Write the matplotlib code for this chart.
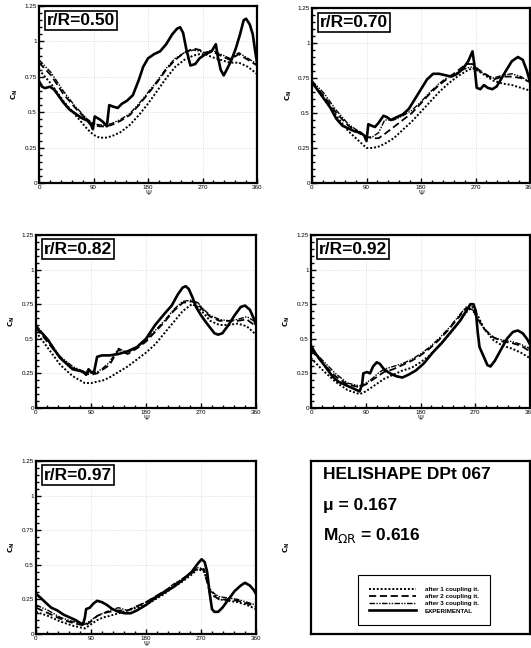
import matplotlib.pyplot as plt
from matplotlib.ticker import MultipleLocator, FuncFormatter

# common azimuth grid for the three coupling iterations
psi_model = [0, 20, 40, 60, 80, 90, 100, 110, 120, 135, 150, 165, 180, 195,
             210, 225, 240, 255, 265, 275, 285, 300, 315, 330, 345, 360]

# r/R = 0.50
it1_050 = [0.80, 0.70, 0.58, 0.48, 0.38, 0.34, 0.32, 0.32, 0.33, 0.36, 0.41, 0.48, 0.56,
           0.65, 0.74, 0.82, 0.87, 0.90, 0.91, 0.91, 0.89, 0.87, 0.85, 0.85, 0.82, 0.77]
it2_050 = [0.85, 0.76, 0.63, 0.53, 0.44, 0.41, 0.40, 0.40, 0.41, 0.44, 0.48, 0.55, 0.63,
           0.71, 0.80, 0.87, 0.92, 0.95, 0.94, 0.92, 0.93, 0.90, 0.87, 0.91, 0.87, 0.83]
it3_050 = [0.87, 0.78, 0.65, 0.54, 0.45, 0.42, 0.41, 0.41, 0.42, 0.45, 0.49, 0.56, 0.64,
           0.72, 0.81, 0.88, 0.92, 0.94, 0.93, 0.92, 0.94, 0.91, 0.88, 0.92, 0.88, 0.84]
psi_exp_050 = [0, 5, 10, 18, 25, 30, 40, 50, 60, 70, 80, 86, 89, 92, 100, 106, 112, 116,
               122, 130, 137, 145, 155, 165, 172, 180, 190, 200, 210, 220, 228, 233, 238,
               243, 250, 258, 265, 275, 285, 292, 295, 300, 305, 310, 318, 325, 332, 338,
               342, 348, 353, 357, 360]
exp_050 = [0.72, 0.68, 0.67, 0.68, 0.66, 0.63, 0.57, 0.52, 0.49, 0.46, 0.44, 0.41, 0.38,
           0.47, 0.45, 0.43, 0.40, 0.55, 0.54, 0.53, 0.56, 0.58, 0.62, 0.73, 0.82, 0.88,
           0.91, 0.93, 0.98, 1.05, 1.09, 1.10, 1.06, 0.95, 0.83, 0.84, 0.88, 0.91, 0.93,
           0.98, 0.90, 0.80, 0.76, 0.80, 0.87, 0.95, 1.05, 1.15, 1.16, 1.12, 1.05, 0.93, 0.85]

# r/R = 0.70
it1_070 = [0.72, 0.60, 0.48, 0.37, 0.29, 0.25, 0.25, 0.26, 0.28, 0.32, 0.38, 0.44, 0.51,
           0.58, 0.65, 0.71, 0.76, 0.80, 0.82, 0.80, 0.77, 0.73, 0.71, 0.70, 0.68, 0.66]
it2_070 = [0.72, 0.62, 0.50, 0.41, 0.35, 0.33, 0.32, 0.32, 0.35, 0.40, 0.45, 0.50, 0.57,
           0.64, 0.70, 0.75, 0.80, 0.85, 0.85, 0.81, 0.78, 0.74, 0.76, 0.76, 0.75, 0.72]
it3_070 = [0.73, 0.64, 0.52, 0.42, 0.36, 0.33, 0.33, 0.36, 0.45, 0.45, 0.48, 0.52, 0.58,
           0.65, 0.71, 0.76, 0.79, 0.82, 0.83, 0.80, 0.78, 0.75, 0.77, 0.78, 0.76, 0.72]
psi_exp_070 = [0, 10, 20, 30, 40, 50, 60, 70, 80, 86, 90, 93, 98, 104, 110, 118, 124, 130,
               140, 150, 160, 170, 180, 190, 200, 210, 220, 230, 240, 250, 258, 265, 268,
               272, 278, 284, 290, 298, 305, 312, 320, 330, 340, 348, 355, 360]
exp_070 = [0.72, 0.66, 0.60, 0.54, 0.46, 0.41, 0.39, 0.37, 0.36, 0.34, 0.30, 0.42, 0.41,
           0.40, 0.43, 0.48, 0.47, 0.45, 0.47, 0.49, 0.53, 0.60, 0.67, 0.74, 0.78, 0.78,
           0.77, 0.76, 0.78, 0.82, 0.87, 0.94, 0.85, 0.68, 0.67, 0.70, 0.68, 0.67, 0.69,
           0.74, 0.80, 0.87, 0.90, 0.88, 0.80, 0.72]

# r/R = 0.82
it1_082 = [0.55, 0.43, 0.31, 0.23, 0.18, 0.18, 0.19, 0.20, 0.22, 0.26, 0.30, 0.35, 0.40,
           0.46, 0.54, 0.62, 0.70, 0.75, 0.73, 0.68, 0.63, 0.60, 0.60, 0.61, 0.59, 0.53]
it2_082 = [0.58, 0.47, 0.36, 0.29, 0.25, 0.24, 0.25, 0.28, 0.31, 0.42, 0.39, 0.43, 0.48,
           0.55, 0.62, 0.70, 0.76, 0.77, 0.75, 0.70, 0.66, 0.63, 0.63, 0.63, 0.64, 0.59]
it3_082 = [0.60, 0.49, 0.37, 0.30, 0.26, 0.25, 0.26, 0.29, 0.33, 0.43, 0.40, 0.44, 0.49,
           0.56, 0.63, 0.71, 0.77, 0.78, 0.76, 0.71, 0.67, 0.64, 0.63, 0.64, 0.66, 0.62]
psi_exp_082 = [0, 10, 20, 30, 40, 50, 60, 70, 78, 82, 86, 90, 95, 100, 108, 120, 135, 150,
               165, 180, 195, 210, 222, 232, 240, 245, 250, 256, 262, 270, 278, 285, 292,
               298, 305, 315, 325, 335, 342, 350, 356, 360]
exp_082 = [0.58, 0.54, 0.49, 0.42, 0.36, 0.32, 0.28, 0.27, 0.26, 0.24, 0.28, 0.26, 0.26,
           0.37, 0.38, 0.38, 0.39, 0.41, 0.44, 0.50, 0.60, 0.68, 0.74, 0.82, 0.87, 0.88,
           0.86, 0.80, 0.73, 0.67, 0.62, 0.58, 0.54, 0.53, 0.54, 0.60, 0.67, 0.73, 0.74,
           0.71, 0.65, 0.60]

# r/R = 0.92
it1_092 = [0.36, 0.27, 0.19, 0.13, 0.10, 0.12, 0.15, 0.18, 0.21, 0.24, 0.27, 0.29, 0.33,
           0.38, 0.45, 0.52, 0.60, 0.69, 0.73, 0.66, 0.57, 0.49, 0.45, 0.43, 0.40, 0.36]
it2_092 = [0.42, 0.32, 0.23, 0.17, 0.15, 0.17, 0.20, 0.23, 0.26, 0.28, 0.31, 0.34, 0.38,
           0.43, 0.49, 0.56, 0.64, 0.72, 0.72, 0.64, 0.57, 0.51, 0.48, 0.47, 0.45, 0.41]
it3_092 = [0.43, 0.34, 0.25, 0.18, 0.16, 0.18, 0.21, 0.25, 0.28, 0.30, 0.32, 0.35, 0.39,
           0.44, 0.50, 0.57, 0.65, 0.73, 0.71, 0.63, 0.57, 0.51, 0.49, 0.48, 0.46, 0.43]
psi_exp_092 = [0, 8, 15, 25, 35, 45, 55, 65, 75, 80, 84, 86, 92, 97, 102, 108, 113, 120,
               130, 140, 150, 160, 172, 185, 200, 215, 230, 245, 255, 262, 267, 271, 274,
               277, 283, 290, 295, 302, 312, 322, 332, 340, 348, 355, 360]
exp_092 = [0.45, 0.39, 0.35, 0.29, 0.23, 0.19, 0.17, 0.15, 0.13, 0.12, 0.17, 0.25, 0.26,
           0.25, 0.30, 0.33, 0.32, 0.28, 0.25, 0.23, 0.22, 0.24, 0.27, 0.32, 0.40, 0.47,
           0.55, 0.63, 0.70, 0.75, 0.75, 0.70, 0.55, 0.44, 0.38, 0.31, 0.30, 0.34, 0.42,
           0.50, 0.55, 0.56, 0.54, 0.50, 0.46]

# r/R = 0.97
it1_097 = [0.16, 0.13, 0.09, 0.06, 0.04, 0.07, 0.10, 0.12, 0.13, 0.15, 0.17, 0.19, 0.21,
           0.25, 0.29, 0.34, 0.38, 0.43, 0.47, 0.45, 0.32, 0.25, 0.24, 0.23, 0.21, 0.18]
it2_097 = [0.19, 0.15, 0.11, 0.08, 0.06, 0.09, 0.13, 0.15, 0.16, 0.17, 0.17, 0.20, 0.23,
           0.27, 0.31, 0.35, 0.40, 0.44, 0.48, 0.46, 0.29, 0.25, 0.25, 0.24, 0.22, 0.20]
it3_097 = [0.21, 0.17, 0.12, 0.09, 0.07, 0.10, 0.13, 0.15, 0.17, 0.19, 0.17, 0.20, 0.23,
           0.27, 0.31, 0.36, 0.40, 0.45, 0.48, 0.47, 0.31, 0.27, 0.26, 0.25, 0.23, 0.21]
psi_exp_097 = [0, 8, 15, 25, 35, 45, 55, 65, 72, 77, 80, 82, 88, 94, 100, 108, 116, 125,
               135, 145, 155, 165, 180, 195, 210, 225, 240, 255, 265, 271, 276, 280, 284,
               288, 292, 298, 305, 315, 325, 335, 342, 350, 356, 360]
exp_097 = [0.29, 0.26, 0.23, 0.19, 0.17, 0.14, 0.12, 0.10, 0.08, 0.07, 0.12, 0.18, 0.19,
           0.22, 0.24, 0.23, 0.21, 0.18, 0.16, 0.15, 0.15, 0.17, 0.21, 0.26, 0.30, 0.34,
           0.39, 0.45, 0.51, 0.54, 0.52, 0.45, 0.30, 0.18, 0.16, 0.16, 0.19, 0.25, 0.31,
           0.35, 0.37, 0.35, 0.32, 0.29]

stations = ["r/R=0.50", "r/R=0.70", "r/R=0.82", "r/R=0.92", "r/R=0.97"]
legend_labels = ["after 1 coupling it.", "after 2 coupling it.",
                 "after 3 coupling it.", "EXPERIMENTAL"]

panels = [
    (it1_050, it2_050, it3_050, psi_exp_050, exp_050),
    (it1_070, it2_070, it3_070, psi_exp_070, exp_070),
    (it1_082, it2_082, it3_082, psi_exp_082, exp_082),
    (it1_092, it2_092, it3_092, psi_exp_092, exp_092),
    (it1_097, it2_097, it3_097, psi_exp_097, exp_097),
]

W, H = 531, 648
# axes boxes in pixels: left, top, right, bottom
boxes = [(39, 6, 257, 183), (312, 8, 530, 183),
         (36, 235, 256, 408), (311, 235, 530, 408),
         (36, 461, 256, 634), (311, 461, 530, 634)]

plt.rcParams["font.family"] = ["Liberation Sans", "DejaVu Sans"]

fig = plt.figure(figsize=(W / 100, H / 100), dpi=100)


def px_axes(box):
    l, t, r, b = box
    return fig.add_axes([l / W, 1 - b / H, (r - l) / W, (b - t) / H])


def fmt(v, pos):
    return "%g" % v


styles = [
    dict(color="black", lw=1.4, ls=(0, (1, 1))),
    dict(color="black", lw=1.3, ls=(0, (4, 2))),
    dict(color="black", lw=1.0, ls=(0, (4, 1, 1, 1, 1, 1))),
    dict(color="black", lw=1.9, ls="-"),
]

handles = []
for i, (a1, a2, a3, pe, ce) in enumerate(panels):
    ax = px_axes(boxes[i])
    lines = []
    for ys, st in zip([a1, a2, a3], styles[:3]):
        lines += ax.plot(psi_model, ys, **st)
    lines += ax.plot(pe, ce, **styles[3])
    if i == 0:
        handles = lines
    ax.set_xlim(0, 360)
    ax.set_ylim(0, 1.25)
    ax.xaxis.set_major_locator(MultipleLocator(90))
    ax.xaxis.set_minor_locator(MultipleLocator(18))
    ax.yaxis.set_major_locator(MultipleLocator(0.25))
    ax.yaxis.set_minor_locator(MultipleLocator(0.05))
    ax.yaxis.set_major_formatter(FuncFormatter(fmt))
    ax.tick_params(which="both", direction="in", top=False, right=False,
                   labelsize=4.5, pad=1.5, width=1.0)
    ax.tick_params(which="major", length=3.5)
    ax.tick_params(which="minor", length=2)
    ax.grid(True, which="major", color="#cccccc", ls=":", lw=0.5)
    for s in ax.spines.values():
        s.set_linewidth(1.6)
    ax.set_xlabel("Ψ", fontsize=5, labelpad=0)
    ax.set_ylabel(r"$\mathbf{C_N}$", fontsize=5, labelpad=3)
    ax.text(0.035, 0.962, stations[i], transform=ax.transAxes, ha="left", va="top",
            fontsize=12.5, fontweight="bold",
            bbox=dict(boxstyle="square,pad=0.12", fc="white", ec="black", lw=1.2))

# info panel
ax6 = px_axes(boxes[5])
ax6.set_xticks([])
ax6.set_yticks([])
for s in ax6.spines.values():
    s.set_linewidth(1.6)
ax6.set_ylabel(r"$\mathbf{C_N}$", fontsize=5, labelpad=14)
ax6.text(0.055, 0.92, "HELISHAPE DPt 067", transform=ax6.transAxes, ha="left",
         va="center", fontsize=12.5, fontweight="bold")
ax6.text(0.055, 0.745, "μ = 0.167", transform=ax6.transAxes, ha="left",
         va="center", fontsize=12.5, fontweight="bold")
ax6.text(0.055, 0.572, r"M$_{\Omega\mathrm{R}}$ = 0.616", transform=ax6.transAxes,
         ha="left", va="center", fontsize=12.5, fontweight="bold")
leg = ax6.legend(handles, legend_labels, loc="lower center",
                 bbox_to_anchor=(0.516, 0.035), handlelength=7.5,
                 handletextpad=1.4, labelspacing=0.3, borderpad=1.8,
                 fancybox=False, edgecolor="black", framealpha=1,
                 prop=dict(weight="bold", size=4.5))
leg.get_frame().set_linewidth(0.8)

fig.savefig("out.png", dpi=100)
